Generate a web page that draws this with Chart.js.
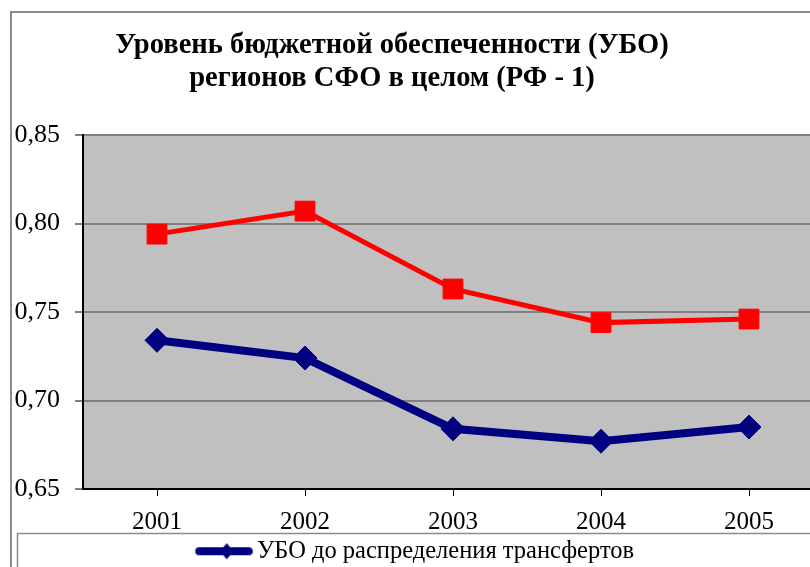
<!DOCTYPE html>
<html>
<head>
<meta charset="utf-8">
<script src="https://cdn.jsdelivr.net/npm/chart.js@4"></script>
<style>
  html, body { margin: 0; padding: 0; background: #fff; overflow: hidden; width: 810px; height: 567px; }
  #chart { position: absolute; left: -54px; top: 0; }
</style>
</head>
<body>
<canvas id="chart" width="892" height="604"></canvas>
<script>
const years = ['2001', '2002', '2003', '2004', '2005'];
const beforeTransfers = [0.734, 0.724, 0.684, 0.677, 0.685];
const afterTransfers = [0.794, 0.807, 0.763, 0.744, 0.746];
const seriesNames = ['УБО до распределения трансфертов', 'УБО после распределения трансфертов'];
const titleLines = ['Уровень бюджетной обеспеченности (УБО)', 'регионов СФО в целом (РФ - 1)'];
const yMin = 0.65;
const yMax = 0.85;
const yStep = 0.05;

const serif = 'Liberation Serif, Times New Roman, serif';
const navy = '#000080';
const red = '#ff0000';
const off = 54; // canvas starts this far left of the page

// small line+marker pictures for the legend (Excel style)
const legendMark = (color, width, marker) => {
  const c = document.createElement('canvas');
  c.width = 200;
  c.height = 24;
  const g = c.getContext('2d');
  g.strokeStyle = color;
  g.fillStyle = color;
  g.lineWidth = width;
  g.lineCap = 'round';
  g.beginPath();
  g.moveTo(94.5, 12);
  g.lineTo(144, 12);
  g.stroke();
  marker(g, 122, 12);
  return c;
};
const diamond = (g, x, y) => {
  g.beginPath();
  g.moveTo(x, y - 8);
  g.lineTo(x + 7, y);
  g.lineTo(x, y + 8);
  g.lineTo(x - 7, y);
  g.closePath();
  g.fill();
};
const square = (g, x, y) => g.fillRect(x - 7, y - 7, 14, 14);
const legendMarks = [legendMark(navy, 8, diamond), legendMark(red, 4, square)];

const frame = {
  id: 'frame',
  beforeDraw(chart) {
    const {ctx, chartArea: a} = chart;
    ctx.save();
    ctx.fillStyle = '#fff';
    ctx.fillRect(0, 0, chart.width, chart.height);
    ctx.fillStyle = '#c0c0c0';
    ctx.fillRect(a.left, a.top, a.right - a.left, a.bottom - a.top);
    ctx.strokeStyle = '#8c8c8c';
    ctx.lineWidth = 2;
    ctx.beginPath();
    ctx.moveTo(off + 11, chart.height);
    ctx.lineTo(off + 11, 12);
    ctx.lineTo(chart.width, 12);
    ctx.stroke();
    ctx.lineWidth = 1.5;
    ctx.strokeRect(off + 17.5, chart.legend.top + 0.5, chart.width, 120);
    ctx.restore();
  },
  afterLayout(chart) {
    // Excel puts the legend entries a bit left of centre
    const lg = chart.legend;
    const pad = lg.options.labels.padding;
    const now = (lg.left + pad + lg.right - lg.lineWidths[0]) / 2;
    const shift = off + 164.7 - now;
    lg.left += shift;
    lg.right += shift;
  }
};

new Chart(document.getElementById('chart'), {
  type: 'line',
  data: {
    labels: years,
    datasets: [
      {
        label: seriesNames[0],
        data: beforeTransfers,
        borderColor: navy,
        backgroundColor: navy,
        borderWidth: 8,
        pointStyle: 'rectRot',
        pointRadius: 12,
        pointBorderWidth: 1,
      },
      {
        label: seriesNames[1],
        data: afterTransfers,
        borderColor: red,
        backgroundColor: red,
        borderWidth: 5,
        pointStyle: 'rect',
        pointRadius: 14,
        pointBorderWidth: 1,
      },
    ],
  },
  options: {
    responsive: false,
    animation: false,
    events: [],
    layout: {padding: 0},
    scales: {
      x: {
        offset: true,
        afterFit: (s) => {
          s.height = 44;
          s.paddingLeft = 0;
          s.paddingRight = 0;
        },
        border: {color: '#000', width: 2},
        grid: {drawOnChartArea: false, color: '#000', lineWidth: 1, tickLength: 7},
        ticks: {color: '#000', font: {family: serif, size: 25}, padding: 11},
      },
      y: {
        min: yMin,
        max: yMax,
        afterFit: (s) => { s.width = off + 83; },
        border: {color: '#000', width: 2},
        grid: {color: '#808080', lineWidth: 2, tickLength: 8},
        ticks: {
          stepSize: yStep,
          color: '#000',
          padding: 15,
          font: {family: serif, size: 26},
          callback: (v) => v.toFixed(2).replace('.', ','),
        },
      },
    },
    plugins: {
      tooltip: {enabled: false},
      title: {
        display: true,
        text: titleLines,
        color: '#000',
        font: {family: serif, size: 28.5, weight: 'bold', lineHeight: 1.158},
        padding: {top: 28.9, bottom: 40.1},
      },
      legend: {
        position: 'bottom',
        labels: {
          color: '#000',
          font: {family: serif, size: 24.5},
          padding: 6,
          usePointStyle: true,
          pointStyleWidth: 80,
          generateLabels: (chart) => chart.data.datasets.map((ds, i) => ({
            text: ds.label,
            pointStyle: legendMarks[i],
            fillStyle: ds.backgroundColor,
            strokeStyle: ds.borderColor,
            lineWidth: 0,
            datasetIndex: i,
          })),
        },
      },
    },
  },
  plugins: [frame],
});
</script>
</body>
</html>
